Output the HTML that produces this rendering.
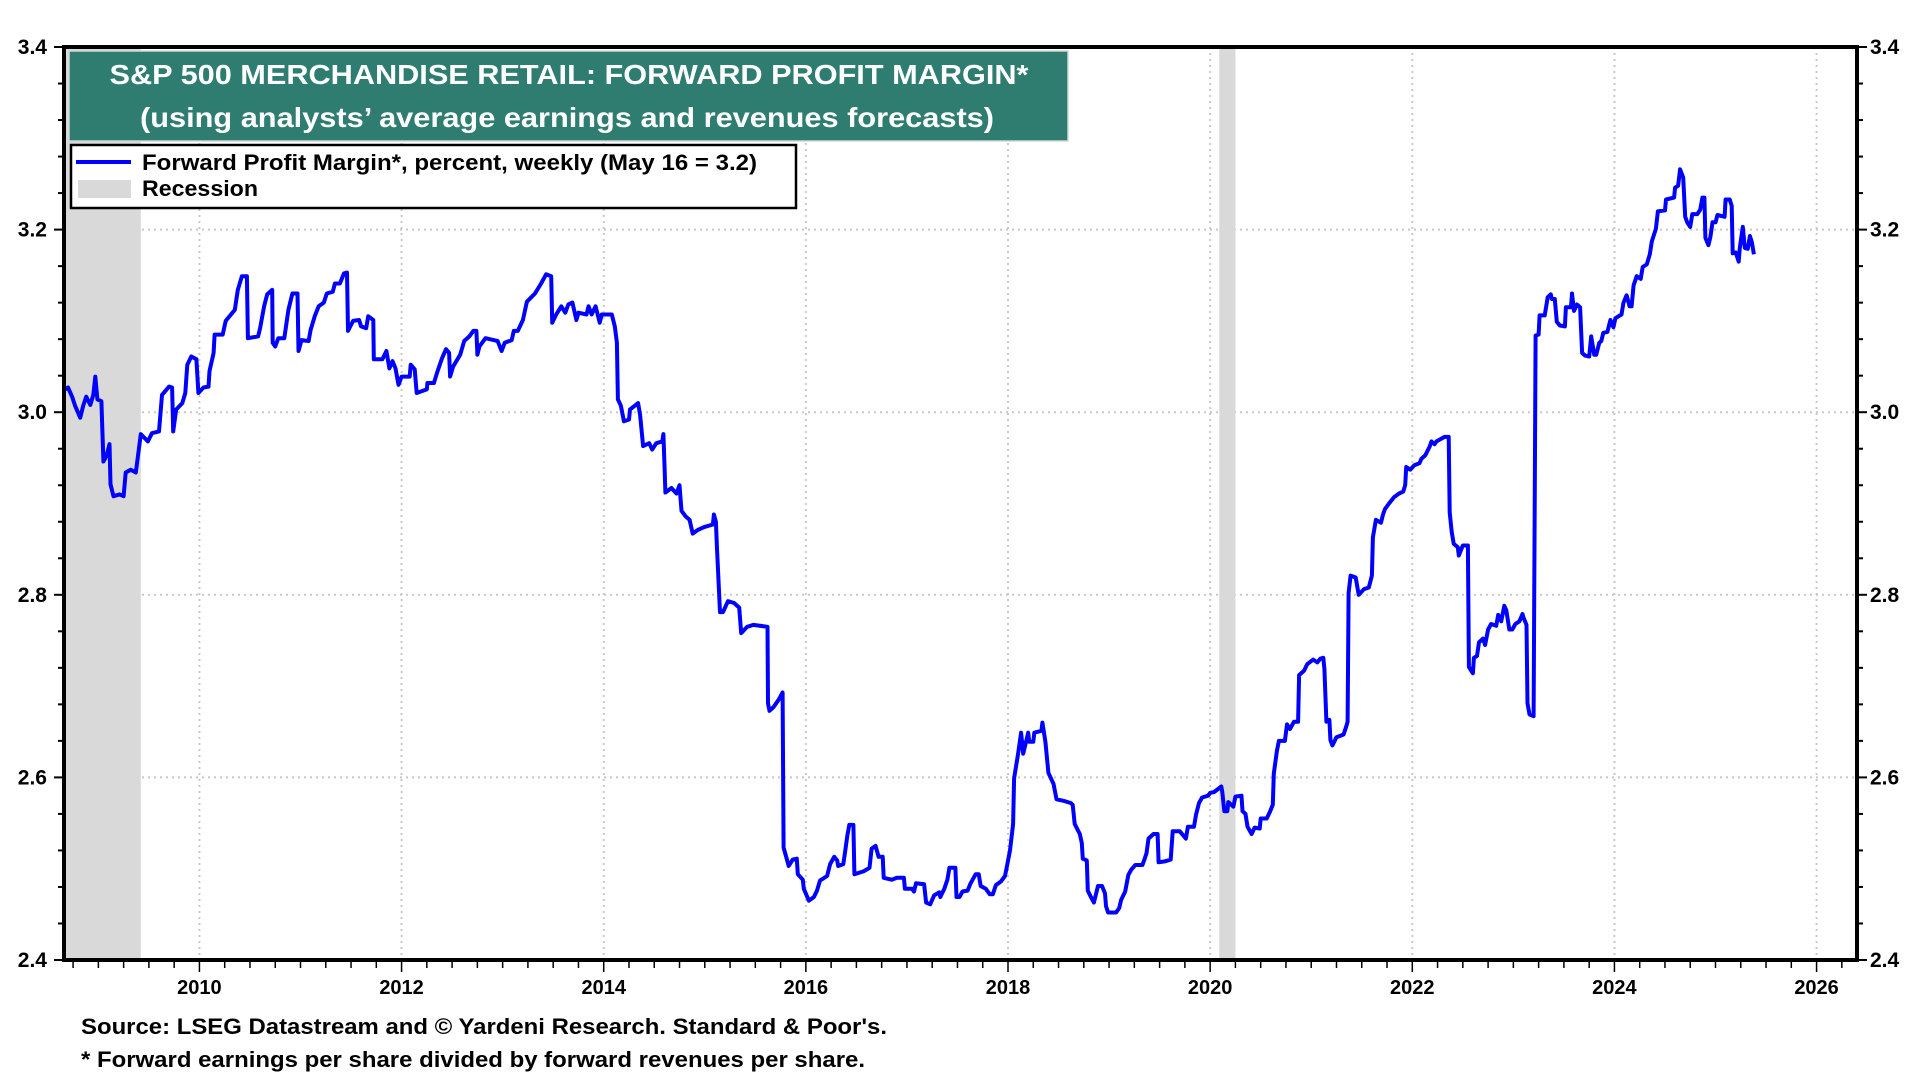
<!DOCTYPE html>
<html><head><meta charset="utf-8"><style>
html,body{margin:0;padding:0;background:#fff;}
svg{display:block;font-family:"Liberation Sans",Arial,sans-serif;font-weight:bold;}
</style></head><body>
<svg id="chart" width="1920" height="1080" viewBox="0 0 1920 1080" xmlns="http://www.w3.org/2000/svg">
<g id="grid"></g>
<g id="rec"></g>
<path id="line" fill="none" stroke="#0000ff" stroke-width="4" stroke-linejoin="round"/>
<g id="axes"></g>
<rect x="64" y="47" width="1793" height="913" fill="none" stroke="#000" stroke-width="4"/>
<g>
<rect x="69" y="51" width="999" height="90" fill="#2e7d70" stroke="#cfd8d5" stroke-width="1.5"/>
<text x="569" y="84" fill="#fff" font-size="28" text-anchor="middle" textLength="919" lengthAdjust="spacingAndGlyphs">S&amp;P 500 MERCHANDISE RETAIL: FORWARD PROFIT MARGIN*</text>
<text x="567" y="127" fill="#fff" font-size="28" text-anchor="middle" textLength="854" lengthAdjust="spacingAndGlyphs">(using analysts’ average earnings and revenues forecasts)</text>
</g>
<g>
<rect x="71" y="145" width="725" height="63" fill="#fff" stroke="#000" stroke-width="2.5"/>
<line x1="76" y1="162" x2="131" y2="162" stroke="#0000ff" stroke-width="4"/>
<text x="142" y="170" font-size="22" textLength="615" lengthAdjust="spacingAndGlyphs">Forward Profit Margin*, percent, weekly (May 16 = 3.2)</text>
<rect x="78" y="180" width="53" height="18" fill="#d9d9d9"/>
<text x="142" y="196" font-size="22" textLength="116" lengthAdjust="spacingAndGlyphs">Recession</text>
</g>
<text x="81" y="1034" font-size="22" textLength="806" lengthAdjust="spacingAndGlyphs">Source: LSEG Datastream and © Yardeni Research. Standard &amp; Poor's.</text>
<text x="81" y="1067" font-size="22" textLength="784" lengthAdjust="spacingAndGlyphs">* Forward earnings per share divided by forward revenues per share.</text>
</svg>
<script>
const yTicks = [2.4, 2.6, 2.8, 3.0, 3.2, 3.4];
const yTickLabels = ["2.4", "2.6", "2.8", "3.0", "3.2", "3.4"];
const xYears = [2010, 2012, 2014, 2016, 2018, 2020, 2022, 2024, 2026];
const recessionStarts = [2008.67, 2020.09];
const recessionEnds = [2009.42, 2020.25];
const dates = [2008.67,2008.70,2008.74,2008.77,2008.82,2008.85,2008.88,2008.92,2008.95,2008.97,2008.99,2009.03,2009.05,2009.08,2009.11,2009.12,2009.15,2009.21,2009.25,2009.27,2009.32,2009.37,2009.40,2009.42,2009.49,2009.53,2009.60,2009.63,2009.70,2009.73,2009.74,2009.77,2009.83,2009.86,2009.88,2009.92,2009.97,2009.99,2010.04,2010.09,2010.10,2010.14,2010.15,2010.23,2010.26,2010.35,2010.38,2010.42,2010.47,2010.48,2010.58,2010.60,2010.64,2010.67,2010.72,2010.725,2010.75,2010.78,2010.84,2010.88,2010.92,2010.97,2010.98,2011.01,2011.08,2011.10,2011.14,2011.18,2011.23,2011.26,2011.32,2011.34,2011.39,2011.43,2011.46,2011.47,2011.52,2011.58,2011.60,2011.65,2011.67,2011.72,2011.725,2011.81,2011.85,2011.88,2011.91,2011.94,2011.97,2012.00,2012.08,2012.09,2012.13,2012.15,2012.25,2012.255,2012.32,2012.35,2012.40,2012.44,2012.47,2012.48,2012.51,2012.58,2012.62,2012.67,2012.71,2012.74,2012.75,2012.77,2012.83,2012.91,2012.95,2012.99,2013.02,2013.09,2013.11,2013.15,2013.20,2013.24,2013.32,2013.38,2013.43,2013.48,2013.49,2013.53,2013.58,2013.62,2013.65,2013.69,2013.73,2013.75,2013.83,2013.85,2013.88,2013.92,2013.96,2013.98,2014.08,2014.11,2014.13,2014.14,2014.17,2014.20,2014.25,2014.26,2014.34,2014.36,2014.39,2014.45,2014.48,2014.52,2014.58,2014.59,2014.60,2014.61,2014.67,2014.72,2014.75,2014.77,2014.81,2014.85,2014.88,2014.93,2014.99,2015.08,2015.09,2015.11,2015.12,2015.15,2015.18,2015.23,2015.29,2015.34,2015.36,2015.42,2015.48,2015.62,2015.625,2015.64,2015.68,2015.73,2015.77,2015.78,2015.81,2015.83,2015.87,2015.91,2015.92,2015.97,2015.98,2016.03,2016.08,2016.11,2016.14,2016.21,2016.24,2016.28,2016.31,2016.32,2016.37,2016.39,2016.41,2016.43,2016.47,2016.48,2016.57,2016.63,2016.65,2016.69,2016.72,2016.76,2016.77,2016.85,2016.90,2016.97,2016.98,2017.05,2017.07,2017.09,2017.17,2017.19,2017.23,2017.27,2017.32,2017.33,2017.37,2017.40,2017.42,2017.48,2017.49,2017.52,2017.55,2017.60,2017.63,2017.68,2017.71,2017.73,2017.78,2017.82,2017.85,2017.88,2017.93,2017.97,2017.99,2018.02,2018.05,2018.06,2018.10,2018.13,2018.15,2018.20,2018.21,2018.25,2018.26,2018.33,2018.34,2018.37,2018.40,2018.45,2018.48,2018.56,2018.62,2018.64,2018.66,2018.71,2018.73,2018.74,2018.78,2018.79,2018.82,2018.85,2018.89,2018.93,2018.96,2018.97,2018.99,2019.07,2019.10,2019.12,2019.16,2019.19,2019.22,2019.26,2019.33,2019.35,2019.37,2019.39,2019.44,2019.48,2019.49,2019.55,2019.61,2019.63,2019.70,2019.76,2019.78,2019.84,2019.86,2019.89,2019.92,2019.98,2020.00,2020.04,2020.11,2020.12,2020.14,2020.17,2020.18,2020.23,2020.25,2020.31,2020.32,2020.35,2020.37,2020.41,2020.44,2020.49,2020.50,2020.56,2020.59,2020.62,2020.63,2020.66,2020.68,2020.74,2020.76,2020.79,2020.83,2020.87,2020.88,2020.93,2020.96,2021.02,2021.06,2021.09,2021.12,2021.13,2021.15,2021.18,2021.19,2021.21,2021.25,2021.32,2021.35,2021.36,2021.37,2021.39,2021.44,2021.47,2021.52,2021.57,2021.60,2021.61,2021.64,2021.69,2021.71,2021.73,2021.77,2021.82,2021.87,2021.91,2021.93,2021.94,2021.98,2022.02,2022.07,2022.09,2022.13,2022.17,2022.19,2022.22,2022.24,2022.32,2022.36,2022.37,2022.39,2022.41,2022.45,2022.46,2022.50,2022.55,2022.56,2022.60,2022.61,2022.64,2022.66,2022.70,2022.72,2022.75,2022.78,2022.83,2022.85,2022.88,2022.91,2022.93,2022.96,2022.99,2023.02,2023.06,2023.09,2023.10,2023.13,2023.14,2023.16,2023.20,2023.22,2023.25,2023.26,2023.31,2023.34,2023.37,2023.38,2023.41,2023.43,2023.46,2023.51,2023.52,2023.57,2023.58,2023.60,2023.63,2023.66,2023.68,2023.71,2023.75,2023.77,2023.80,2023.82,2023.85,2023.87,2023.89,2023.93,2023.96,2023.99,2024.01,2024.07,2024.09,2024.12,2024.15,2024.17,2024.19,2024.22,2024.26,2024.28,2024.32,2024.35,2024.37,2024.41,2024.43,2024.50,2024.51,2024.59,2024.60,2024.63,2024.65,2024.68,2024.70,2024.72,2024.75,2024.77,2024.82,2024.85,2024.87,2024.89,2024.90,2024.93,2024.95,2024.97,2025.00,2025.02,2025.09,2025.10,2025.14,2025.16,2025.17,2025.20,2025.23,2025.24,2025.27,2025.29,2025.32,2025.34,2025.36,2025.38];
const values = [3.025,3.027,3.017,3.007,2.994,3.007,3.017,3.008,3.019,3.039,3.014,3.012,2.946,2.952,2.965,2.921,2.908,2.910,2.908,2.934,2.937,2.934,2.959,2.976,2.968,2.977,2.979,3.019,3.028,3.027,2.979,3.003,3.010,3.021,3.052,3.061,3.058,3.021,3.027,3.028,3.045,3.065,3.085,3.085,3.100,3.112,3.134,3.149,3.149,3.081,3.083,3.092,3.116,3.129,3.134,3.076,3.072,3.081,3.081,3.112,3.130,3.130,3.067,3.079,3.078,3.090,3.105,3.116,3.120,3.130,3.132,3.141,3.141,3.152,3.153,3.089,3.100,3.101,3.094,3.092,3.105,3.101,3.058,3.058,3.067,3.048,3.056,3.048,3.030,3.039,3.039,3.052,3.047,3.021,3.025,3.032,3.032,3.043,3.059,3.069,3.065,3.039,3.050,3.063,3.078,3.083,3.089,3.089,3.063,3.072,3.081,3.079,3.078,3.067,3.076,3.079,3.089,3.089,3.101,3.121,3.130,3.141,3.151,3.149,3.098,3.107,3.116,3.109,3.118,3.120,3.101,3.109,3.107,3.116,3.107,3.116,3.098,3.107,3.107,3.094,3.076,3.014,3.007,2.990,2.992,3.003,3.010,2.997,2.963,2.966,2.959,2.966,2.968,2.976,2.945,2.912,2.917,2.911,2.920,2.892,2.886,2.882,2.867,2.871,2.874,2.877,2.888,2.880,2.853,2.781,2.781,2.793,2.791,2.786,2.758,2.765,2.767,2.765,2.681,2.673,2.677,2.685,2.693,2.523,2.511,2.503,2.510,2.511,2.494,2.488,2.478,2.465,2.469,2.476,2.487,2.492,2.505,2.513,2.509,2.503,2.505,2.520,2.536,2.548,2.548,2.494,2.497,2.501,2.522,2.525,2.513,2.513,2.490,2.488,2.490,2.490,2.478,2.478,2.475,2.484,2.483,2.463,2.461,2.471,2.474,2.469,2.478,2.488,2.501,2.501,2.469,2.469,2.475,2.476,2.484,2.494,2.494,2.481,2.478,2.472,2.472,2.482,2.486,2.492,2.503,2.520,2.549,2.599,2.626,2.649,2.626,2.649,2.639,2.639,2.649,2.651,2.660,2.639,2.605,2.593,2.576,2.574,2.572,2.570,2.549,2.538,2.528,2.511,2.509,2.476,2.469,2.463,2.481,2.481,2.473,2.459,2.452,2.452,2.457,2.466,2.475,2.493,2.499,2.504,2.504,2.510,2.517,2.533,2.538,2.538,2.507,2.508,2.510,2.541,2.541,2.533,2.546,2.546,2.559,2.572,2.578,2.580,2.583,2.584,2.590,2.584,2.563,2.563,2.573,2.568,2.579,2.580,2.563,2.560,2.546,2.538,2.545,2.544,2.555,2.555,2.562,2.570,2.604,2.629,2.640,2.640,2.658,2.653,2.661,2.661,2.712,2.717,2.724,2.729,2.726,2.730,2.731,2.719,2.661,2.663,2.641,2.635,2.644,2.647,2.657,2.661,2.802,2.821,2.819,2.800,2.806,2.808,2.821,2.863,2.882,2.879,2.888,2.894,2.900,2.907,2.911,2.913,2.920,2.940,2.937,2.942,2.944,2.949,2.953,2.962,2.968,2.965,2.968,2.973,2.973,2.890,2.869,2.856,2.852,2.843,2.854,2.854,2.721,2.714,2.731,2.733,2.748,2.752,2.745,2.762,2.768,2.766,2.778,2.771,2.788,2.783,2.762,2.762,2.768,2.771,2.779,2.775,2.767,2.681,2.669,2.667,3.084,3.085,3.106,3.106,3.126,3.129,3.124,3.124,3.099,3.095,3.094,3.115,3.115,3.130,3.111,3.118,3.115,3.065,3.062,3.061,3.083,3.063,3.063,3.076,3.078,3.087,3.088,3.101,3.093,3.103,3.107,3.120,3.128,3.116,3.116,3.139,3.149,3.146,3.159,3.162,3.173,3.187,3.201,3.220,3.221,3.233,3.235,3.246,3.248,3.266,3.257,3.214,3.208,3.203,3.217,3.217,3.222,3.235,3.235,3.191,3.183,3.192,3.208,3.208,3.216,3.214,3.233,3.233,3.226,3.174,3.175,3.165,3.180,3.203,3.180,3.179,3.193,3.186,3.173];

const L = 64, R = 1857, T = 47, B = 960;
const X0 = 2008.66, X1 = 2026.4;
function xs(d){ return L + (d - X0) / (X1 - X0) * (R - L); }
function ys(v){ return B - (v - 2.4) / 1.0 * (B - T); }
const NS = "http://www.w3.org/2000/svg";
function mk(tag, attrs, parent){ const e = document.createElementNS(NS, tag); for (const k in attrs) e.setAttribute(k, attrs[k]); parent.appendChild(e); return e; }

const grid = document.getElementById('grid');
yTicks.forEach(function(v){
  if (v > 2.4 && v < 3.4) {
    const g = mk('line', {x1: L, x2: R, y1: ys(v), y2: ys(v), stroke: '#c8c8c8', 'stroke-width': 2, 'stroke-dasharray': '2 4'}, grid);
    
    
  }
});
xYears.forEach(function(y){
  const g = mk('line', {x1: xs(y), x2: xs(y), y1: T, y2: B, stroke: '#c8c8c8', 'stroke-width': 2, 'stroke-dasharray': '2 4'}, grid);
  
  
});
const rec = document.getElementById('rec');
recessionStarts.forEach(function(s, i){
  const r = mk('rect', {x: xs(s), y: T, width: xs(recessionEnds[i]) - xs(s), height: B - T, fill: '#d9d9d9'}, rec);
  
  
});
let d = '';
dates.forEach(function(t, i){ d += (i ? 'L' : 'M') + xs(t).toFixed(1) + ',' + ys(values[i]).toFixed(1); });
document.getElementById('line').setAttribute('d', d);

const axes = document.getElementById('axes');
for (let v = 2.4; v <= 3.4001; v += 0.04) {
  const major = Math.abs((v - 2.4) / 0.2 - Math.round((v - 2.4) / 0.2)) < 1e-6;
  const len = major ? 10 : 6;
  const t1 = mk('line', {x1: L - len, x2: L, y1: ys(v), y2: ys(v), stroke: '#000', 'stroke-width': 2}, axes);
  
  
  const t2 = mk('line', {x1: R, x2: R + len, y1: ys(v), y2: ys(v), stroke: '#000', 'stroke-width': 2}, axes);
  
  
}
yTicks.forEach(function(v, i){
  const a = mk('text', {x: 47, y: ys(v) + 7, 'font-size': 21, 'text-anchor': 'end'}, axes);
  a.textContent = yTickLabels[i];
  
  
  const b = mk('text', {x: 1870, y: ys(v) + 7, 'font-size': 21}, axes);
  b.textContent = yTickLabels[i];
  
  
});
for (let q = 2008.75; q <= 2026.4; q += 0.25) {
  const major = Math.abs(q - Math.round(q)) < 1e-6 && Math.round(q) % 2 === 0;
  const t = mk('line', {x1: xs(q), x2: xs(q), y1: B, y2: B + (major ? 12 : 8), stroke: '#000', 'stroke-width': 1.5}, axes);
  
  
}
xYears.forEach(function(y){
  const a = mk('text', {x: xs(y), y: 994, 'font-size': 20, 'text-anchor': 'middle'}, axes);
  a.textContent = String(y);
  
  
});
</script>
</body></html>
